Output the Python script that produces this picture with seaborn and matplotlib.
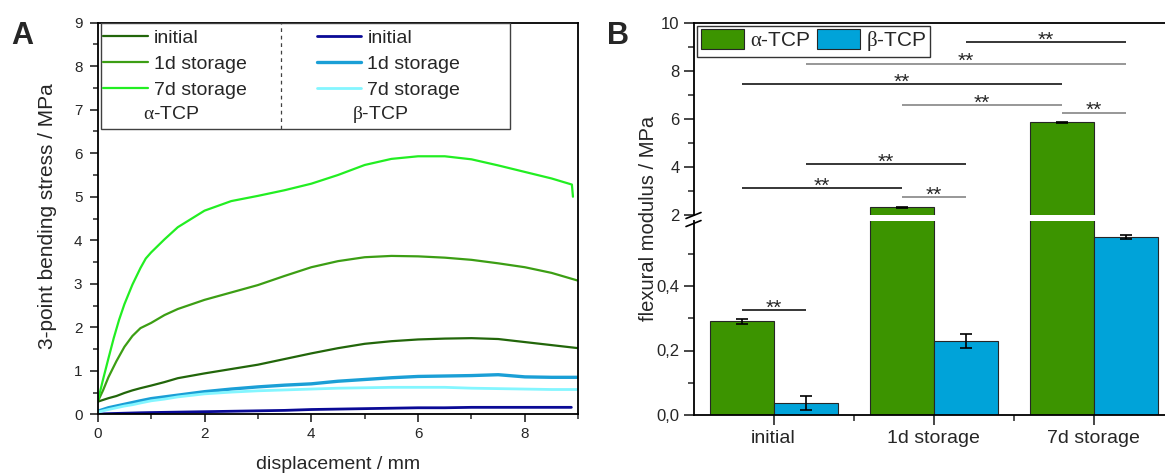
import numpy as np
import pandas as pd
import matplotlib
matplotlib.use("Agg")
import matplotlib.pyplot as plt
import seaborn as sns
from matplotlib.patches import Rectangle, Patch
from matplotlib.ticker import FixedLocator, MultipleLocator, FuncFormatter

# ---------------- data: 3-point bending curves (panel A) ----------------
disp_alpha_initial = [0, 0.1, 0.2, 0.35, 0.5, 0.65, 0.8, 1.0, 1.25, 1.5, 2.0, 2.5, 3.0,
                      3.5, 4.0, 4.5, 5.0, 5.5, 6.0, 6.5, 7.0, 7.5, 8.0, 8.5, 9.0]
stress_alpha_initial = [0.29, 0.33, 0.37, 0.42, 0.49, 0.55, 0.60, 0.66, 0.74, 0.83, 0.94, 1.04,
                        1.14, 1.27, 1.40, 1.52, 1.62, 1.68, 1.72, 1.74, 1.75, 1.73, 1.66, 1.59, 1.52]

disp_alpha_1d = [0, 0.1, 0.2, 0.35, 0.5, 0.65, 0.8, 1.0, 1.25, 1.5, 2.0, 2.5, 3.0,
                 3.5, 4.0, 4.5, 5.0, 5.5, 6.0, 6.5, 7.0, 7.5, 8.0, 8.5, 9.0]
stress_alpha_1d = [0.29, 0.55, 0.85, 1.22, 1.55, 1.80, 1.98, 2.10, 2.28, 2.42, 2.63, 2.80, 2.97,
                   3.18, 3.38, 3.52, 3.61, 3.64, 3.63, 3.60, 3.55, 3.47, 3.38, 3.25, 3.07]

disp_alpha_7d = [0, 0.05, 0.1, 0.2, 0.3, 0.4, 0.5, 0.65, 0.8, 0.9, 1.0, 1.25, 1.5, 2.0, 2.5, 3.0,
                 3.5, 4.0, 4.5, 5.0, 5.5, 6.0, 6.5, 7.0, 7.5, 8.0, 8.5, 8.88, 8.9]
stress_alpha_7d = [0.29, 0.55, 0.80, 1.28, 1.75, 2.17, 2.53, 2.98, 3.36, 3.58, 3.72, 4.02, 4.30,
                   4.68, 4.90, 5.02, 5.15, 5.30, 5.50, 5.73, 5.87, 5.93, 5.93, 5.86, 5.72, 5.57,
                   5.42, 5.28, 5.00]

disp_beta_initial = [0, 0.1, 0.2, 0.35, 0.5, 0.65, 0.8, 1.0, 1.25, 1.5, 2.0, 2.5, 3.0,
                     3.5, 4.0, 4.5, 5.0, 5.5, 6.0, 6.5, 7.0, 7.5, 8.0, 8.5, 8.87]
stress_beta_initial = [0.00, 0.01, 0.015, 0.02, 0.025, 0.03, 0.035, 0.04, 0.045, 0.05, 0.06, 0.07,
                       0.08, 0.09, 0.11, 0.12, 0.13, 0.14, 0.15, 0.15, 0.16, 0.16, 0.16, 0.16, 0.16]

disp_beta_1d = [0, 0.1, 0.2, 0.35, 0.5, 0.65, 0.8, 1.0, 1.25, 1.5, 2.0, 2.5, 3.0,
                3.5, 4.0, 4.5, 5.0, 5.5, 6.0, 6.5, 7.0, 7.5, 8.0, 8.5, 9.0]
stress_beta_1d = [0.07, 0.11, 0.15, 0.19, 0.23, 0.27, 0.31, 0.36, 0.40, 0.44, 0.52, 0.58, 0.63,
                  0.67, 0.70, 0.76, 0.80, 0.84, 0.87, 0.88, 0.89, 0.91, 0.86, 0.85, 0.85]

disp_beta_7d = [0, 0.1, 0.2, 0.35, 0.5, 0.65, 0.8, 1.0, 1.25, 1.5, 2.0, 2.5, 3.0,
                3.5, 4.0, 4.5, 5.0, 5.5, 6.0, 6.5, 7.0, 7.5, 8.0, 8.5, 9.0]
stress_beta_7d = [0.05, 0.08, 0.11, 0.15, 0.19, 0.22, 0.26, 0.31, 0.35, 0.40, 0.47, 0.51, 0.54,
                  0.56, 0.58, 0.60, 0.61, 0.62, 0.62, 0.62, 0.60, 0.59, 0.58, 0.57, 0.57]

curve_labels = ["initial", "1d storage", "7d storage"]

# ---------------- data: flexural modulus (panel B) ----------------
storage = ["initial", "1d storage", "7d storage"]
materials = ["alpha", "beta"]
alpha_mean = [0.29, 2.33, 5.86]
alpha_sd = [0.009, 0.02, 0.02]
beta_mean = [0.038, 0.229, 0.553]
beta_sd = [0.021, 0.021, 0.006]

# significance comparisons: (group, material) vs (group, material), bracket level
sig_pairs = [
    ((0, "alpha"), (0, "beta"), 0.326),
    ((0, "alpha"), (1, "alpha"), 3.11),
    ((1, "alpha"), (1, "beta"), 2.75),
    ((0, "beta"), (1, "beta"), 4.11),
    ((1, "alpha"), (2, "alpha"), 6.58),
    ((2, "alpha"), (2, "beta"), 6.26),
    ((0, "alpha"), (2, "alpha"), 7.44),
    ((0, "beta"), (2, "beta"), 8.29),
    ((1, "beta"), (2, "beta"), 9.18),
]
sig_grey = [False, False, True, False, True, True, False, True, False]

# ---------------- styling ----------------
sns.set_style("ticks")
plt.rcParams["font.family"] = ["Liberation Sans", "DejaVu Sans"]
plt.rcParams["mathtext.fontset"] = "custom"
plt.rcParams["mathtext.rm"] = "Liberation Serif"
plt.rcParams["mathtext.it"] = "Liberation Serif:italic"
plt.rcParams["mathtext.bf"] = "Liberation Serif:bold"
plt.rcParams["axes.linewidth"] = 1.3

ALPHA_LABEL = r"$\mathrm{\alpha}$-TCP"
BETA_LABEL = r"$\mathrm{\beta}$-TCP"

alpha_line_colors = ["#22660a", "#3c9e14", "#22ee22"]
beta_line_colors = ["#0a0a96", "#1a9fd6", "#84f6ff"]
bar_green = "#3c9400"
bar_blue = "#00a3d9"

W, H = 1165, 474
fig = plt.figure(figsize=(W / 100, H / 100), dpi=100)


def px_axes(left, top, right, bottom):
    return [left / W, 1 - bottom / H, (right - left) / W, (bottom - top) / H]


# ======================= panel A =======================
axA = fig.add_axes(px_axes(97.7, 22.7, 578.3, 414.3))

series = [
    (disp_alpha_initial, stress_alpha_initial, alpha_line_colors[0], 1.6),
    (disp_alpha_1d, stress_alpha_1d, alpha_line_colors[1], 1.6),
    (disp_alpha_7d, stress_alpha_7d, alpha_line_colors[2], 1.6),
    (disp_beta_initial, stress_beta_initial, beta_line_colors[0], 2.0),
    (disp_beta_1d, stress_beta_1d, beta_line_colors[1], 2.4),
    (disp_beta_7d, stress_beta_7d, beta_line_colors[2], 2.0),
]
labels_all = curve_labels + curve_labels
for (xs, ys, col, lw), lab in zip(series, labels_all):
    sns.lineplot(x=xs, y=ys, ax=axA, color=col, lw=lw, label=lab,
                 sort=False, estimator=None)

axA.set_xlim(0, 9)
axA.set_ylim(0, 9)
axA.set_xlabel("")
axA.set_ylabel("")
axA.xaxis.set_major_locator(MultipleLocator(2))
axA.xaxis.set_minor_locator(MultipleLocator(1))
axA.yaxis.set_major_locator(MultipleLocator(1))
axA.yaxis.set_minor_locator(MultipleLocator(0.5))
axA.tick_params(which="major", direction="out", length=6, width=1.2, labelsize=11,
                top=False, right=False)
axA.tick_params(which="minor", direction="out", length=3.5, width=1.1,
                top=False, right=False)
axA.tick_params(axis="y", pad=5)
axA.tick_params(axis="x", pad=3.5)
for s in axA.spines.values():
    s.set_visible(True)
    s.set_color("black")

handles, labels = axA.get_legend_handles_labels()
axA.legend(handles, labels, ncol=2, loc="upper left",
           bbox_to_anchor=(103 / W, 1 - 29.5 / H), bbox_transform=fig.transFigure,
           frameon=False, fontsize=14, handlelength=2.3, handletextpad=0.31,
           columnspacing=3.6, labelspacing=0.42, borderpad=0, borderaxespad=0)

# legend box, column divider and material captions
axA.add_patch(Rectangle((0.0062, 0.7278), 0.8517, 0.2707, transform=axA.transAxes,
                        fill=False, edgecolor="#404040", lw=1.0, zorder=5))
axA.plot([0.3814, 0.3814], [0.7278, 0.9985], transform=axA.transAxes,
         ls=(0, (3, 3)), color="#404040", lw=0.9, zorder=5)
axA.text(0.0943, 0.765, ALPHA_LABEL, transform=axA.transAxes, ha="left", va="center",
         fontsize=14)
axA.text(0.529, 0.765, BETA_LABEL, transform=axA.transAxes, ha="left", va="center",
         fontsize=14)

fig.text(338 / W, 5 / H, "displacement / mm", ha="center", va="baseline", fontsize=14)
fig.text(47.5 / W, 1 - 216 / H, "3-point bending stress / MPa", rotation=90,
         ha="center", va="center", fontsize=15)

# ======================= panel B (broken y axis) =======================
axBu = fig.add_axes(px_axes(693.5, 22.7, 1173.6, 215.0))
axBl = fig.add_axes(px_axes(693.5, 221.5, 1173.6, 415.0))

df_bars = pd.DataFrame({
    "storage": storage * 2,
    "material": [materials[0]] * 3 + [materials[1]] * 3,
    "modulus": alpha_mean + beta_mean,
})
offsets = {"alpha": -0.2, "beta": 0.2}

for ax in (axBu, axBl):
    sns.barplot(data=df_bars, x="storage", y="modulus", hue="material",
                order=storage, hue_order=materials, palette=[bar_green, bar_blue],
                saturation=1, errorbar=None, width=0.8, gap=0,
                edgecolor="#262626", linewidth=0.8, ax=ax, legend=False, zorder=2)
    xs = np.arange(len(storage))
    ax.errorbar(xs + offsets["alpha"], alpha_mean, yerr=alpha_sd, fmt="none",
                ecolor="black", elinewidth=1.2, capsize=4, capthick=1.2, zorder=3)
    ax.errorbar(xs + offsets["beta"], beta_mean, yerr=beta_sd, fmt="none",
                ecolor="black", elinewidth=1.2, capsize=4, capthick=1.2, zorder=3)
    ax.set_xlim(-0.5, 2.5)
    ax.set_xlabel("")
    ax.set_ylabel("")

axBu.set_ylim(2, 10)
axBl.set_ylim(0, 0.6)

axBu.spines["bottom"].set_visible(False)
axBl.spines["top"].set_visible(False)
for ax in (axBu, axBl):
    ax.spines["right"].set_visible(False)
    ax.spines["left"].set_color("black")
axBu.spines["top"].set_color("black")
axBl.spines["bottom"].set_color("black")

axBu.yaxis.set_major_locator(FixedLocator([2, 4, 6, 8, 10]))
axBu.yaxis.set_minor_locator(FixedLocator([3, 5, 7, 9]))
axBu.tick_params(axis="x", which="both", bottom=False, top=False, labelbottom=False)
axBu.tick_params(axis="y", which="major", direction="out", length=7, width=1.2,
                 labelsize=12, pad=3)
axBu.tick_params(axis="y", which="minor", direction="out", length=4, width=1.1)

axBl.yaxis.set_major_locator(FixedLocator([0.0, 0.2, 0.4]))
axBl.yaxis.set_minor_locator(FixedLocator([0.1, 0.3, 0.5]))
axBl.yaxis.set_major_formatter(FuncFormatter(lambda v, p: f"{v:.1f}".replace(".", ",")))
axBl.xaxis.set_minor_locator(FixedLocator([0.5, 1.5]))
axBl.tick_params(axis="y", which="major", direction="out", length=7, width=1.2,
                 labelsize=12, pad=3)
axBl.tick_params(axis="y", which="minor", direction="out", length=4, width=1.1)
axBl.tick_params(axis="x", which="major", direction="out", length=7, width=1.2,
                 labelsize=14, pad=4)
axBl.tick_params(axis="x", which="minor", direction="out", length=4, width=1.1)

# break marks on the left spine
for y0 in (0.974, 1.0155):
    axBl.plot([-0.0156, 0.0156], [y0, y0 + 0.031], transform=axBl.transAxes,
              color="black", lw=1.2, clip_on=False, zorder=6)

# significance brackets
for ((g1, m1), (g2, m2), level), grey in zip(sig_pairs, sig_grey):
    ax = axBl if level < 1 else axBu
    x1 = g1 + offsets[m1]
    x2 = g2 + offsets[m2]
    col = "#7a7a7a" if grey else "black"
    ax.plot([x1, x2], [level, level], color=col, lw=1.1, zorder=4, solid_capstyle="butt")
    ax.annotate("**", xy=((x1 + x2) / 2, level), xytext=(0, -2.5),
                textcoords="offset points", ha="center", va="baseline", fontsize=15)

legend_handles = [Patch(facecolor=bar_green, edgecolor="#262626", lw=0.8),
                  Patch(facecolor=bar_blue, edgecolor="#262626", lw=0.8)]
legB = axBu.legend(legend_handles, [ALPHA_LABEL, BETA_LABEL], ncol=2, loc="upper left",
                   bbox_to_anchor=(697.2 / W, 1 - 25.7 / H), bbox_transform=fig.transFigure,
                   fontsize=15, handlelength=2.1, handleheight=1.07, handletextpad=0.26,
                   columnspacing=0.3, borderpad=0.17, borderaxespad=0, fancybox=False,
                   framealpha=1, edgecolor="#333333")
legB.get_frame().set_linewidth(1.0)

fig.text(648 / W, 1 - 218.8 / H, "flexural modulus / MPa", rotation=90,
         ha="center", va="center", fontsize=14.5)

# panel letters
fig.text(11.7 / W, 1 - 44 / H, "A", fontsize=22, fontweight="bold", ha="left", va="baseline")
fig.text(607 / W, 1 - 44 / H, "B", fontsize=22, fontweight="bold", ha="left", va="baseline")

fig.savefig("out.png", dpi=100)
